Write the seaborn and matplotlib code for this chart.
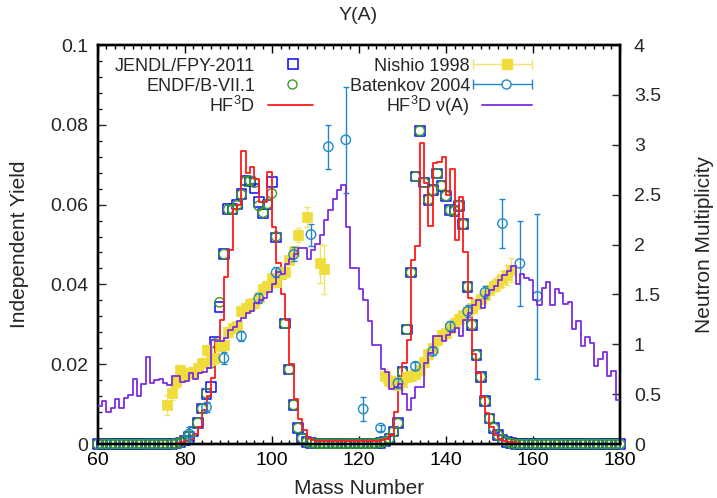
import matplotlib
matplotlib.use("Agg")
import matplotlib.pyplot as plt
from matplotlib.ticker import AutoMinorLocator
import seaborn as sns

# ---------------------------------------------------------------- data
mass = list(range(60, 181))

jendl_yield = [
    0, 0, 0, 0, 0, 0, 0, 0, 0, 0,                                   # 60-69
    0, 0, 0, 0, 0, 0, 0, 0, 0.0001, 0.0004,                         # 70-79
    0.0009, 0.0019, 0.0031, 0.0052, 0.0089, 0.0125, 0.0143, 0.0255, 0.0343, 0.0476,  # 80-89
    0.0589, 0.0589, 0.0600, 0.0627, 0.0660, 0.0658, 0.0640, 0.0607, 0.0578, 0.0600,  # 90-99
    0.0657, 0.0518, 0.0425, 0.0302, 0.0187, 0.0098, 0.0040, 0.0014, 0.0005, 0.0002,  # 100-109
    0.0001, 0.0001, 0.0001, 0.0001, 0.0001, 0.0001, 0.0001, 0.0001, 0.0001, 0.0001,  # 110-119
    0.0001, 0.0001, 0.0001, 0.0001, 0.0001, 0.0003, 0.0006, 0.0014, 0.0031, 0.0052,  # 120-129
    0.0181, 0.0287, 0.0430, 0.0670, 0.0785, 0.0655, 0.0612, 0.0636, 0.0678, 0.0647,  # 130-139
    0.0622, 0.0586, 0.0584, 0.0597, 0.0551, 0.0394, 0.0299, 0.0223, 0.0168, 0.0107,  # 140-149
    0.0064, 0.0040, 0.0022, 0.0011, 0.0005, 0.0002, 0, 0, 0, 0,     # 150-159
    0, 0, 0, 0, 0, 0, 0, 0, 0, 0,                                   # 160-169
    0, 0, 0, 0, 0, 0, 0, 0, 0, 0,                                   # 170-179
    0,                                                              # 180
]

endf_yield = [
    0, 0, 0, 0, 0, 0, 0, 0, 0, 0,
    0, 0, 0, 0, 0, 0, 0, 0, 0.0001, 0.0004,
    0.0009, 0.0020, 0.0032, 0.0053, 0.0088, 0.0127, 0.0202, 0.0252, 0.0355, 0.0476,
    0.0588, 0.0588, 0.0598, 0.0625, 0.0658, 0.0660, 0.0655, 0.0597, 0.0580, 0.0602,
    0.0628, 0.0520, 0.0425, 0.0302, 0.0187, 0.0098, 0.0040, 0.0014, 0.0005, 0.0002,
    0.0001, 0.0001, 0.0001, 0.0001, 0.0001, 0.0001, 0.0001, 0.0001, 0.0001, 0.0001,
    0.0001, 0.0001, 0.0001, 0.0001, 0.0001, 0.0003, 0.0006, 0.0014, 0.0031, 0.0052,
    0.0181, 0.0287, 0.0430, 0.0670, 0.0785, 0.0655, 0.0612, 0.0636, 0.0678, 0.0647,
    0.0622, 0.0586, 0.0584, 0.0597, 0.0551, 0.0394, 0.0299, 0.0223, 0.0168, 0.0107,
    0.0064, 0.0040, 0.0022, 0.0011, 0.0005, 0.0002, 0, 0, 0, 0,
    0, 0, 0, 0, 0, 0, 0, 0, 0, 0,
    0, 0, 0, 0, 0, 0, 0, 0, 0, 0,
    0,
]

hf3d_yield = [
    0, 0, 0, 0, 0, 0, 0, 0, 0, 0,
    0, 0, 0, 0, 0, 0, 0, 0, 0.0002, 0.0004,
    0.0007, 0.0013, 0.0025, 0.0042, 0.0085, 0.0120, 0.0165, 0.0255, 0.0312, 0.0418,
    0.0485, 0.0588, 0.0598, 0.0735, 0.0680, 0.0695, 0.0664, 0.0607, 0.0607, 0.0682,
    0.0545, 0.0453, 0.0375, 0.0310, 0.0200, 0.0112, 0.0062, 0.0035, 0.0016, 0.0010,
    0.0008, 0.0008, 0.0008, 0.0008, 0.0008, 0.0008, 0.0008, 0.0008, 0.0008, 0.0008,
    0.0008, 0.0008, 0.0008, 0.0008, 0.0008, 0.0009, 0.0012, 0.0023, 0.0081, 0.0152,
    0.0202, 0.0260, 0.0460, 0.0497, 0.0755, 0.0654, 0.0546, 0.0705, 0.0708, 0.0720,
    0.0625, 0.0689, 0.0511, 0.0620, 0.0482, 0.0365, 0.0226, 0.0177, 0.0119, 0.0077,
    0.0043, 0.0023, 0.0013, 0.0008, 0.0006, 0.0004, 0.0002, 0, 0, 0,
    0, 0, 0, 0, 0, 0, 0, 0, 0, 0,
    0, 0, 0, 0, 0, 0, 0, 0, 0, 0,
    0,
]

hf3d_nu = [
    0.38, 0.43, 0.32, 0.36, 0.45, 0.36, 0.46, 0.49, 0.65, 0.48,     # 60-69
    0.60, 0.87, 0.61, 0.64, 0.65, 0.61, 0.59, 0.68, 0.68, 0.62,     # 70-79
    0.63, 0.71, 0.65, 0.71, 0.72, 0.76, 1.04, 1.03, 1.03, 1.06,     # 80-89
    1.14, 1.17, 1.23, 1.26, 1.31, 1.33, 1.41, 1.44, 1.46, 1.52,     # 90-99
    1.60, 1.72, 1.70, 1.80, 1.85, 1.90, 1.96, 1.96, 1.85, 1.94,     # 100-109
    2.01, 2.10, 2.25, 2.35, 2.46, 2.55, 2.60, 2.18, 1.76, 1.76,     # 110-119
    1.55, 1.44, 1.23, 0.99, 0.99, 0.75, 0.72, 0.55, 0.57, 0.60,     # 120-129
    0.50, 0.34, 0.46, 0.57, 0.57, 0.81, 0.91, 1.08, 1.08, 1.03,     # 130-139
    1.09, 1.12, 1.16, 1.08, 1.24, 1.31, 1.39, 1.44, 1.36, 1.49,     # 140-149
    1.54, 1.58, 1.64, 1.69, 1.73, 1.78, 1.60, 1.70, 1.66, 1.64,     # 150-159
    1.44, 1.39, 1.56, 1.62, 1.39, 1.55, 1.51, 1.40, 1.42, 1.15,     # 160-169
    1.23, 0.98, 1.07, 1.01, 0.78, 0.85, 0.92, 0.68, 0.73, 0.44,     # 170-179
    0.44,                                                           # 180
]

nishio_mass = [76, 77, 78, 79, 80, 81, 82, 83, 84, 85, 86, 87, 88, 89, 90,
               91, 92, 93, 94, 95, 96, 97, 98, 99, 100, 101, 102, 103, 104,
               105, 106, 108, 111, 112,
               126, 127, 128, 129, 130, 131, 132, 133, 134, 135, 136, 137,
               138, 139, 140, 141, 142, 143, 144, 145, 146, 147, 148, 149,
               150, 151, 152, 153, 154, 155]
nishio_nu = [0.39, 0.51, 0.62, 0.74, 0.69, 0.71, 0.72, 0.76, 0.81, 0.94, 0.84,
             0.86, 0.98, 0.99, 1.12, 1.16, 1.18, 1.33, 1.36, 1.40, 1.41, 1.47,
             1.55, 1.58, 1.66, 1.62, 1.70, 1.72, 1.84, 1.93, 2.10, 2.28, 1.81,
             1.75,
             0.68, 0.63, 0.62, 0.59, 0.62, 0.67, 0.68, 0.70, 0.74, 0.82, 0.90,
             0.96, 1.04, 1.09, 1.11, 1.16, 1.21, 1.25, 1.29, 1.33, 1.36, 1.40,
             1.45, 1.49, 1.54, 1.58, 1.61, 1.65, 1.69, 1.74]
nishio_err = [0.10, 0.07, 0.06, 0.05, 0.05, 0.05, 0.05, 0.05, 0.05, 0.05, 0.05,
              0.05, 0.05, 0.05, 0.05, 0.05, 0.05, 0.05, 0.05, 0.05, 0.05, 0.05,
              0.05, 0.05, 0.05, 0.05, 0.05, 0.05, 0.05, 0.06, 0.07, 0.10, 0.20,
              0.25,
              0.07, 0.06, 0.06, 0.05, 0.05, 0.05, 0.05, 0.05, 0.05, 0.05, 0.05,
              0.05, 0.05, 0.05, 0.05, 0.05, 0.05, 0.05, 0.05, 0.05, 0.05, 0.05,
              0.05, 0.05, 0.05, 0.06, 0.07, 0.08, 0.10, 0.12]

batenkov_mass = [81, 85, 89, 93, 97, 101, 105, 109, 113, 117, 121, 125, 129,
                 133, 137, 141, 145, 149, 153, 157, 161]
batenkov_nu = [0.10, 0.37, 0.86, 1.08, 1.46, 1.72, 1.90, 2.10, 2.98, 3.05,
               0.35, 0.16, 0.61, 0.78, 0.93, 1.18, 1.33, 1.52, 2.21, 1.81, 1.48]
batenkov_err = [0.07, 0.05, 0.06, 0.05, 0.05, 0.05, 0.07, 0.11, 0.22, 0.53,
                0.12, 0.03, 0.05, 0.04, 0.04, 0.05, 0.06, 0.06, 0.25, 0.43, 0.83]

mass_ticks = [60, 80, 100, 120, 140, 160, 180]
mass_labels = ["60", "80", "100", "120", "140", "160", "180"]
yield_ticks = [0, 0.02, 0.04, 0.06, 0.08, 0.1]
yield_labels = ["0", "0.02", "0.04", "0.06", "0.08", "0.1"]
nu_ticks = [0, 0.5, 1, 1.5, 2, 2.5, 3, 3.5, 4]
nu_labels = ["0", "0.5", "1", "1.5", "2", "2.5", "3", "3.5", "4"]

# ---------------------------------------------------------------- style
sns.set_style("white")
plt.rcParams["font.family"] = ["Liberation Sans", "DejaVu Sans"]
plt.rcParams["mathtext.fontset"] = "custom"
plt.rcParams["mathtext.rm"] = "Liberation Sans"
plt.rcParams["mathtext.it"] = "Liberation Sans:italic"
plt.rcParams["mathtext.bf"] = "Liberation Sans:bold"
FS_TICK = 14
FS_LABEL = 15
FS_KEY = 13

C_JENDL = "#0a0aff"
C_ENDF = "#3a9d23"
C_HF3D = "#ff1a1a"
C_NISHIO = "#f0dc3a"
C_NISHIO_ERR = "#f3e56a"
C_BATENKOV = "#1f88c8"
C_NU = "#7b2ee0"

fig = plt.figure(figsize=(7.17, 4.98), dpi=100)
ax = fig.add_axes([0.13626, 0.10843, 0.72845, 0.80120])
ax2 = ax.twinx()

# ---------------------------------------------------------------- yields (left axis)
sns.scatterplot(x=mass, y=jendl_yield, marker="s", s=48, color=C_JENDL,
                facecolor="none", edgecolor=C_JENDL, linewidth=1.1,
                clip_on=False, zorder=3, ax=ax)
sns.scatterplot(x=mass, y=endf_yield, marker="o", s=46, color=C_ENDF,
                facecolor="none", edgecolor=C_ENDF, linewidth=1.0,
                clip_on=False, zorder=4, ax=ax)
sns.lineplot(x=mass, y=hf3d_yield, drawstyle="steps-post", color=C_HF3D,
             linewidth=1.3, estimator=None, errorbar=None, zorder=5, ax=ax)

# ---------------------------------------------------------------- neutron multiplicity (right axis)
ax2.errorbar(nishio_mass, nishio_nu, yerr=nishio_err, fmt="none",
             ecolor=C_NISHIO_ERR, elinewidth=1.0, capsize=2.5, capthick=1.0,
             zorder=2)
sns.scatterplot(x=nishio_mass, y=nishio_nu, marker="s", s=56, color=C_NISHIO,
                edgecolor=C_NISHIO, linewidth=0.5, zorder=3, ax=ax2)
ax2.errorbar(batenkov_mass, batenkov_nu, yerr=batenkov_err, fmt="none",
             ecolor=C_BATENKOV, elinewidth=1.0, capsize=2.5, capthick=1.0,
             zorder=4)
sns.scatterplot(x=batenkov_mass, y=batenkov_nu, marker="o", s=46,
                color=C_BATENKOV, facecolor="none", edgecolor=C_BATENKOV,
                linewidth=1.0, zorder=5, ax=ax2)
sns.lineplot(x=mass, y=hf3d_nu, drawstyle="steps-post", color=C_NU,
             linewidth=1.3, estimator=None, errorbar=None, zorder=6, ax=ax2)

# ---------------------------------------------------------------- axes
ax.set_xlim(60, 180)
ax.set_ylim(0, 0.1)
ax2.set_ylim(0, 4)

ax.set_xticks(mass_ticks)
ax.set_xticklabels(mass_labels)
ax.set_yticks(yield_ticks)
ax.set_yticklabels(yield_labels)
ax2.set_yticks(nu_ticks)
ax2.set_yticklabels(nu_labels)
ax.xaxis.set_minor_locator(AutoMinorLocator(10))
ax.yaxis.set_minor_locator(AutoMinorLocator(5))

ax.tick_params(axis="x", which="both", direction="in", top=True, bottom=True,
               labelsize=FS_TICK, pad=6, colors="black")
ax.tick_params(axis="y", which="both", direction="in", left=True, right=False,
               labelsize=FS_TICK, pad=7)
ax.tick_params(which="major", length=6, width=1.0)
ax.tick_params(which="minor", length=3, width=1.0)
ax2.tick_params(axis="y", which="major", direction="in", right=True,
                length=6, width=1.0, labelsize=FS_TICK, pad=10)

for a in (ax, ax2):
    a.set_xlabel("")
    a.set_ylabel("")
    for sp in a.spines.values():
        sp.set_visible(True)
        sp.set_linewidth(1.7)
        sp.set_color("black")
    a.grid(False)

fig.text(0.5, 1 - 16 / 498, "Y(A)", ha="center", va="center", fontsize=FS_TICK)
fig.text(358.9 / 717, 1 - 488 / 498, "Mass Number", ha="center", va="center",
         fontsize=FS_LABEL)
fig.text(20 / 717, 1 - 244.5 / 498, "Independent Yield", rotation=90,
         ha="center", va="center", fontsize=FS_LABEL)
fig.text(705 / 717, 1 - 244.5 / 498, "Neutron Multiplicity", rotation=90,
         ha="center", va="center", fontsize=FS_LABEL)

# ---------------------------------------------------------------- key (two columns, gnuplot layout)
T = ax2.transAxes
row_text = [0.9356, 0.8855, 0.8328]
row_mark = [0.9524, 0.9023, 0.8496]

left_entries = ["JENDL/FPY-2011", "ENDF/B-VII.1", r"HF$^{\mathregular{3}}$D"]
right_entries = ["Nishio 1998", "Batenkov 2004", r"HF$^{\mathregular{3}}$D ν(A)"]
for yt, s in zip(row_text, left_entries):
    ax2.text(0.3012, yt, s, transform=T, ha="right", va="baseline", fontsize=FS_KEY)
for yt, s in zip(row_text, right_entries):
    ax2.text(0.7128, yt, s, transform=T, ha="right", va="baseline", fontsize=FS_KEY)

ax2.plot([0.3739], [row_mark[0]], transform=T, ls="none", marker="s", ms=6.5,
         mfc="none", mec=C_JENDL, mew=1.1, clip_on=False, zorder=7)
ax2.plot([0.3720], [row_mark[1]], transform=T, ls="none", marker="o", ms=6.5,
         mfc="none", mec=C_ENDF, mew=1.0, clip_on=False, zorder=7)
ax2.plot([0.3261, 0.4122], [row_mark[2]] * 2, transform=T, color=C_HF3D,
         lw=1.3, clip_on=False, zorder=7)

x0, x1 = 0.7186, 0.8315
ax2.plot([x0, x1], [row_mark[0]] * 2, transform=T, color=C_NISHIO_ERR, lw=1.0,
         clip_on=False, zorder=7)
ax2.plot([x0, x1], [row_mark[0]] * 2, transform=T, ls="none", marker="|",
         ms=7, mew=1.0, color=C_NISHIO_ERR, clip_on=False, zorder=7)
ax2.plot([0.7831], [row_mark[0]], transform=T, ls="none", marker="s", ms=7.4,
         color=C_NISHIO, clip_on=False, zorder=8)
ax2.plot([x0, x1], [row_mark[1]] * 2, transform=T, color=C_BATENKOV, lw=1.0,
         clip_on=False, zorder=7)
ax2.plot([x0, x1], [row_mark[1]] * 2, transform=T, ls="none", marker="|",
         ms=7, mew=1.0, color=C_BATENKOV, clip_on=False, zorder=7)
ax2.plot([0.7817], [row_mark[1]], transform=T, ls="none", marker="o", ms=6.5,
         mfc="white", mec=C_BATENKOV, mew=1.0, clip_on=False, zorder=8)
ax2.plot([0.7358, x1], [row_mark[2]] * 2, transform=T, color=C_NU, lw=1.3,
         clip_on=False, zorder=7)

fig.savefig("out.png", dpi=100)
